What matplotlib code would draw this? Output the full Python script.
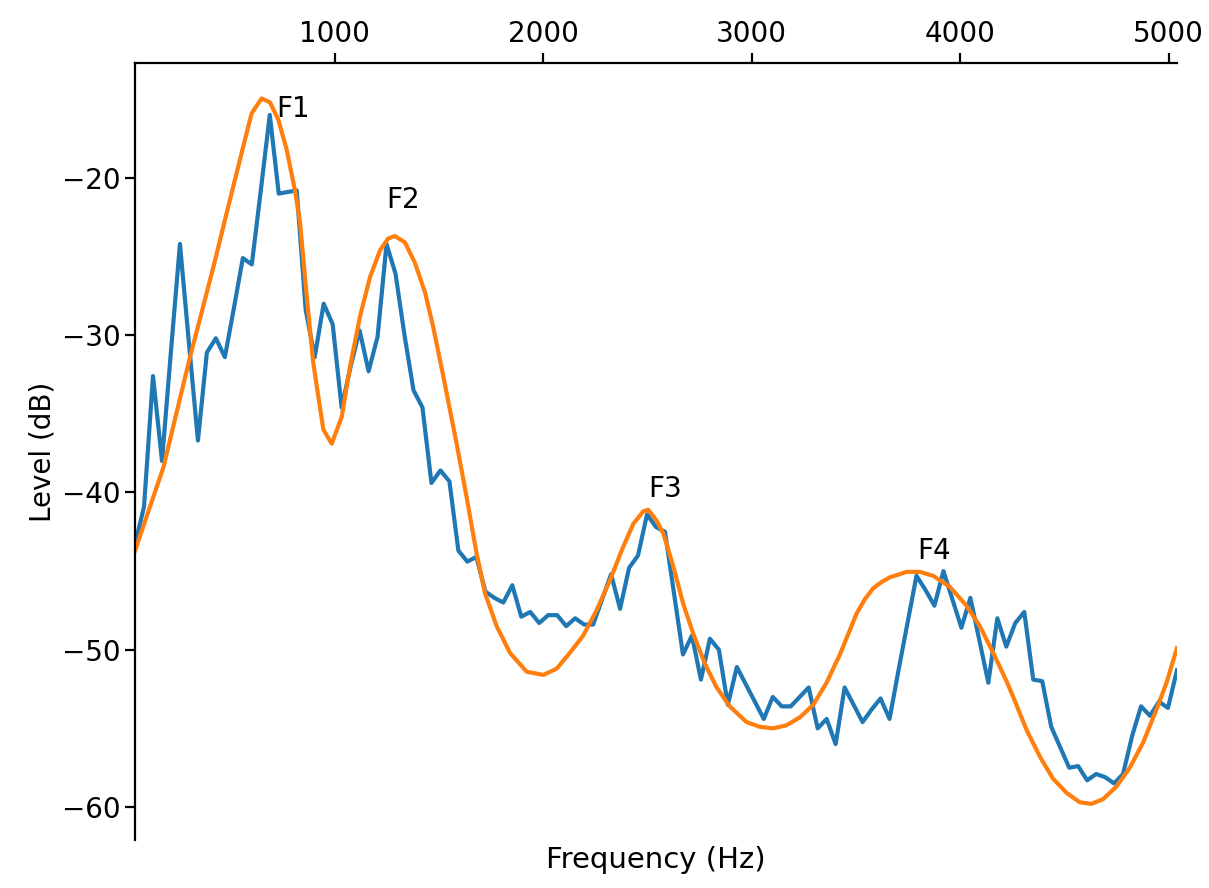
import matplotlib
matplotlib.use("Agg")
import matplotlib.pyplot as plt
import numpy as np

# FFT bin spacing (Hz) and spectrum level per bin (dB), bins 1..117
df = 43.07
spectrum_db = [-43.3, -40.9, -32.6, -38.0, -31.0, -24.2, -30.5, -36.7, -31.1, -30.2,
               -31.4, -28.3, -25.1, -25.5, -20.8, -16.0, -21.0, -20.9, -20.8, -28.4,
               -31.4, -28.0, -29.3, -34.6, -32.0, -29.7, -32.3, -30.1, -24.2, -26.1,
               -30.0, -33.5, -34.6, -39.4, -38.6, -39.3, -43.7, -44.4, -44.1, -46.3,
               -46.7, -47.0, -45.9, -47.9, -47.6, -48.3, -47.8, -47.8, -48.5, -48.0,
               -48.4, -48.4, -46.8, -45.2, -47.4, -44.8, -44.0, -41.4, -42.2, -42.5,
               -46.4, -50.3, -49.1, -51.9, -49.3, -50.0, -53.5, -51.1, -52.2, -53.3,
               -54.4, -53.0, -53.6, -53.6, -53.0, -52.4, -55.0, -54.4, -56.0, -52.4,
               -53.5, -54.6, -53.8, -53.1, -54.4, -51.3, -48.3, -45.3, -46.2, -47.2,
               -45.0, -46.8, -48.6, -46.7, -49.4, -52.1, -48.0, -49.8, -48.3, -47.6,
               -51.9, -52.0, -54.9, -56.2, -57.5, -57.4, -58.3, -57.9, -58.1, -58.5,
               -57.9, -55.5, -53.6, -54.2, -53.3, -53.7, -51.3]
bins = np.arange(1, len(spectrum_db) + 1)
freqs = bins * df

# LPC envelope
env_freq = [43, 179, 299, 418, 498, 562, 602, 650, 690, 730, 770, 810, 834, 866, 898,
            946, 986, 1034, 1074, 1122, 1170, 1218, 1257, 1289, 1337, 1385, 1434, 1473,
            1521, 1585, 1633, 1681, 1721, 1777, 1841, 1921, 2001, 2065, 2128, 2192, 2256,
            2320, 2376, 2432, 2480, 2504, 2544, 2576, 2624, 2672, 2720, 2776, 2832, 2895,
            2975, 3039, 3103, 3167, 3231, 3295, 3359, 3423, 3463, 3503, 3542, 3582, 3622,
            3662, 3743, 3806, 3870, 3950, 4030, 4094, 4158, 4222, 4254, 4318, 4382, 4445,
            4510, 4573, 4629, 4685, 4749, 4813, 4877, 4941, 4989, 5039]
env_db = [-43.7, -38.4, -31.8, -25.7, -21.4, -18.0, -15.9, -14.95, -15.2, -16.3, -18.2,
          -20.8, -22.8, -27.5, -31.8, -36.0, -36.9, -35.2, -32.0, -28.8, -26.3, -24.6,
          -23.85, -23.7, -24.1, -25.4, -27.3, -29.5, -32.6, -36.9, -40.3, -43.9, -46.4,
          -48.5, -50.2, -51.4, -51.6, -51.2, -50.2, -49.1, -47.5, -45.6, -43.7, -42.0,
          -41.2, -41.1, -41.8, -42.6, -44.7, -47.1, -49.0, -50.9, -52.4, -53.6, -54.6,
          -54.9, -55.0, -54.8, -54.3, -53.5, -52.1, -50.3, -49.0, -47.7, -46.8, -46.1,
          -45.7, -45.4, -45.05, -45.05, -45.3, -46.0, -47.2, -48.5, -50.2, -52.0, -53.0,
          -55.1, -56.8, -58.2, -59.1, -59.7, -59.8, -59.5, -58.7, -57.5, -55.9, -53.8,
          -52.1, -49.9]

# formant labels
formant_names = ["F1", "F2", "F3", "F4"]
formant_freq = [719, 1250, 2502, 3792]
formant_db = [-16.1, -21.9, -40.3, -44.2]

fig = plt.figure(figsize=(12.09, 8.88), dpi=100)
ax = fig.add_axes([0.1117, 0.054, 0.8618, 0.875])

ax.plot(freqs, spectrum_db, color="#1f77b4", lw=3)
ax.plot(env_freq, env_db, color="#ff7f0e", lw=3)
for name, f, l in zip(formant_names, formant_freq, formant_db):
    ax.text(f, l, name, fontsize=20)

ax.set_xlim(freqs[0], freqs[-1])
ax.set_ylim(-62.1, -12.7)
ax.set_xticks([1000, 2000, 3000, 4000, 5000])
ax.set_yticks([-20, -30, -40, -50, -60])
ax.xaxis.tick_top()
ax.spines["right"].set_visible(False)
ax.spines["bottom"].set_visible(False)
for s in ["top", "left"]:
    ax.spines[s].set_linewidth(1.6)
ax.tick_params(labelsize=20, length=7, width=1.6)
ax.set_xlabel("Frequency (Hz)", fontsize=21)
ax.set_ylabel("Level (dB)", fontsize=20)

fig.savefig("out.png", dpi=100)
